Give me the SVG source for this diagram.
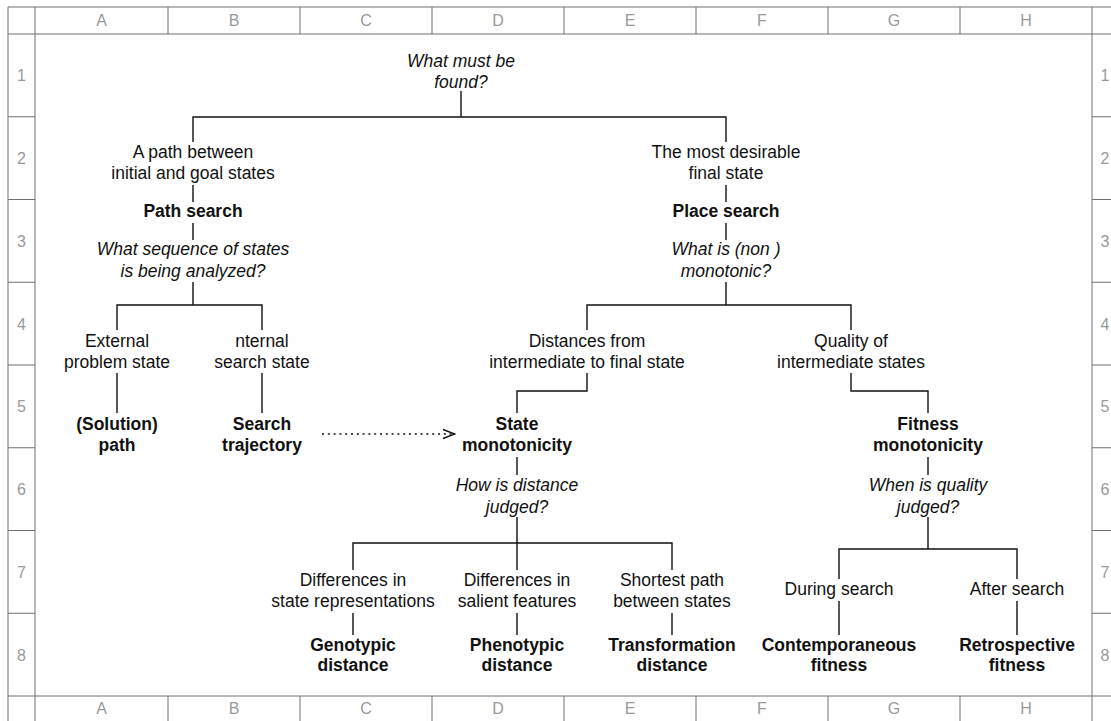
<svg xmlns="http://www.w3.org/2000/svg" width="1111" height="721" viewBox="0 0 1111 721">
  <defs>
    <style>
      text { font-family: "Liberation Sans", Arial, Helvetica, sans-serif; font-size: 17.5px; fill: #111; text-anchor: middle; }
      .q { font-style: italic; }
      .b { font-weight: bold; }
      .hdr { font-size: 16px; fill: #999; }
      .grid line { stroke: #707070; stroke-width: 1; }
      .conn path { fill: none; stroke: #111; stroke-width: 1.4; }
      .conn .dotted { stroke-width: 1.5; stroke-dasharray: 2 3.8; }
    </style>
    <marker id="open-arrow" viewBox="0 0 14 12" refX="13" refY="6" markerWidth="14" markerHeight="12" markerUnits="userSpaceOnUse" orient="auto">
      <path d="M1,1.5 L13,6 L1,10.5" fill="none" stroke="#111" stroke-width="1.4"/>
    </marker>
  </defs>
  <rect width="1111" height="721" fill="#fff"/>

  <!-- spreadsheet-style frame -->
  <g class="grid">
    <line x1="8" y1="7" x2="1111" y2="7"/>
    <line x1="8" y1="34" x2="1111" y2="34"/>
    <line x1="8" y1="696" x2="1111" y2="696"/>
    <line x1="8" y1="7" x2="8" y2="721"/>
    <line x1="35" y1="7" x2="35" y2="721"/>
    <line x1="1092" y1="7" x2="1092" y2="721"/>
    <!-- column separators in top and bottom header -->
    <line x1="168" y1="7" x2="168" y2="34"/><line x1="168" y1="696" x2="168" y2="721"/>
    <line x1="300" y1="7" x2="300" y2="34"/><line x1="300" y1="696" x2="300" y2="721"/>
    <line x1="432" y1="7" x2="432" y2="34"/><line x1="432" y1="696" x2="432" y2="721"/>
    <line x1="564" y1="7" x2="564" y2="34"/><line x1="564" y1="696" x2="564" y2="721"/>
    <line x1="696" y1="7" x2="696" y2="34"/><line x1="696" y1="696" x2="696" y2="721"/>
    <line x1="828" y1="7" x2="828" y2="34"/><line x1="828" y1="696" x2="828" y2="721"/>
    <line x1="960" y1="7" x2="960" y2="34"/><line x1="960" y1="696" x2="960" y2="721"/>
    <!-- row separators in left and right header -->
    <line x1="8" y1="116.75" x2="35" y2="116.75"/><line x1="1092" y1="116.75" x2="1111" y2="116.75"/>
    <line x1="8" y1="199.5" x2="35" y2="199.5"/><line x1="1092" y1="199.5" x2="1111" y2="199.5"/>
    <line x1="8" y1="282.25" x2="35" y2="282.25"/><line x1="1092" y1="282.25" x2="1111" y2="282.25"/>
    <line x1="8" y1="365" x2="35" y2="365"/><line x1="1092" y1="365" x2="1111" y2="365"/>
    <line x1="8" y1="447.75" x2="35" y2="447.75"/><line x1="1092" y1="447.75" x2="1111" y2="447.75"/>
    <line x1="8" y1="530.5" x2="35" y2="530.5"/><line x1="1092" y1="530.5" x2="1111" y2="530.5"/>
    <line x1="8" y1="613.25" x2="35" y2="613.25"/><line x1="1092" y1="613.25" x2="1111" y2="613.25"/>
  </g>
  <g id="headers">
    <text class="hdr" x="101.5" y="26">A</text><text class="hdr" x="234" y="26">B</text>
    <text class="hdr" x="366" y="26">C</text><text class="hdr" x="498" y="26">D</text>
    <text class="hdr" x="630" y="26">E</text><text class="hdr" x="762" y="26">F</text>
    <text class="hdr" x="894" y="26">G</text><text class="hdr" x="1026" y="26">H</text>
    <text class="hdr" x="101.5" y="714">A</text><text class="hdr" x="234" y="714">B</text>
    <text class="hdr" x="366" y="714">C</text><text class="hdr" x="498" y="714">D</text>
    <text class="hdr" x="630" y="714">E</text><text class="hdr" x="762" y="714">F</text>
    <text class="hdr" x="894" y="714">G</text><text class="hdr" x="1026" y="714">H</text>
    <text class="hdr" x="21.5" y="81">1</text><text class="hdr" x="1105" y="81">1</text>
    <text class="hdr" x="21.5" y="164">2</text><text class="hdr" x="1105" y="164">2</text>
    <text class="hdr" x="21.5" y="247">3</text><text class="hdr" x="1105" y="247">3</text>
    <text class="hdr" x="21.5" y="330">4</text><text class="hdr" x="1105" y="330">4</text>
    <text class="hdr" x="21.5" y="412">5</text><text class="hdr" x="1105" y="412">5</text>
    <text class="hdr" x="21.5" y="495">6</text><text class="hdr" x="1105" y="495">6</text>
    <text class="hdr" x="21.5" y="578">7</text><text class="hdr" x="1105" y="578">7</text>
    <text class="hdr" x="21.5" y="661">8</text><text class="hdr" x="1105" y="661">8</text>
  </g>

  <!-- tree connectors -->
  <g class="conn" id="connectors">
    <path d="M461,91 V117 M193,142 V117 H726 V142"/>
    <path d="M193,185 V202 M193,223 V240 M193,282 V305"/>
    <path d="M117,330 V305 H262 V330"/>
    <path d="M117,373 V413 M262,373 V413"/>
    <path d="M726,185 V202 M726,223 V240 M726,282 V305"/>
    <path d="M587,330 V305 H851 V330"/>
    <path d="M587,373 V391 H517 V413"/>
    <path d="M851,373 V391 H928 V413"/>
    <path d="M517,457 V475 M517,517 V543"/>
    <path d="M353,570 V543 H672 V570 M517,543 V570"/>
    <path d="M353,613 V635 M517,613 V635 M672,613 V635"/>
    <path d="M928,457 V475 M928,517 V549"/>
    <path d="M839,579 V549 H1017 V579"/>
    <path d="M839,601 V635 M1017,601 V635"/>
    <path class="dotted" d="M322,434 H455" marker-end="url(#open-arrow)"/>
  </g>

  <!-- nodes -->
  <g id="q-found"><text class="q" x="461" y="67">What must be</text><text class="q" x="461" y="88">found?</text></g>
  <g id="path-between"><text x="193" y="158">A path between</text><text x="193" y="179">initial and goal states</text></g>
  <g id="path-search"><text class="b" x="193" y="217">Path search</text></g>
  <g id="q-sequence"><text class="q" x="193" y="255">What sequence of states</text><text class="q" x="193" y="277">is being analyzed?</text></g>
  <g id="external-state"><text x="117" y="347">External</text><text x="117" y="368">problem state</text></g>
  <g id="internal-state"><text x="262" y="347">nternal</text><text x="262" y="368">search state</text></g>
  <g id="solution-path"><text class="b" x="117" y="430">(Solution)</text><text class="b" x="117" y="451">path</text></g>
  <g id="search-trajectory"><text class="b" x="262" y="430">Search</text><text class="b" x="262" y="451">trajectory</text></g>

  <g id="desirable-state"><text x="726" y="158">The most desirable</text><text x="726" y="179">final state</text></g>
  <g id="place-search"><text class="b" x="726" y="217">Place search</text></g>
  <g id="q-monotonic"><text class="q" x="726" y="255">What is (non )</text><text class="q" x="726" y="277">monotonic?</text></g>
  <g id="distances"><text x="587" y="347">Distances from</text><text x="587" y="368">intermediate to final state</text></g>
  <g id="quality"><text x="851" y="347">Quality of</text><text x="851" y="368">intermediate states</text></g>
  <g id="state-monotonicity"><text class="b" x="517" y="430">State</text><text class="b" x="517" y="451">monotonicity</text></g>
  <g id="fitness-monotonicity"><text class="b" x="928" y="430">Fitness</text><text class="b" x="928" y="451">monotonicity</text></g>
  <g id="q-distance"><text class="q" x="517" y="491">How is distance</text><text class="q" x="517" y="513">judged?</text></g>
  <g id="q-quality"><text class="q" x="928" y="491">When is quality</text><text class="q" x="928" y="513">judged?</text></g>

  <g id="diff-representations"><text x="353" y="586">Differences in</text><text x="353" y="607">state representations</text></g>
  <g id="diff-features"><text x="517" y="586">Differences in</text><text x="517" y="607">salient features</text></g>
  <g id="shortest-path"><text x="672" y="586">Shortest path</text><text x="672" y="607">between states</text></g>
  <g id="genotypic"><text class="b" x="353" y="651">Genotypic</text><text class="b" x="353" y="671">distance</text></g>
  <g id="phenotypic"><text class="b" x="517" y="651">Phenotypic</text><text class="b" x="517" y="671">distance</text></g>
  <g id="transformation"><text class="b" x="672" y="651">Transformation</text><text class="b" x="672" y="671">distance</text></g>

  <g id="during-search"><text x="839" y="595">During search</text></g>
  <g id="after-search"><text x="1017" y="595">After search</text></g>
  <g id="contemporaneous"><text class="b" x="839" y="651">Contemporaneous</text><text class="b" x="839" y="671">fitness</text></g>
  <g id="retrospective"><text class="b" x="1017" y="651">Retrospective</text><text class="b" x="1017" y="671">fitness</text></g>
</svg>
